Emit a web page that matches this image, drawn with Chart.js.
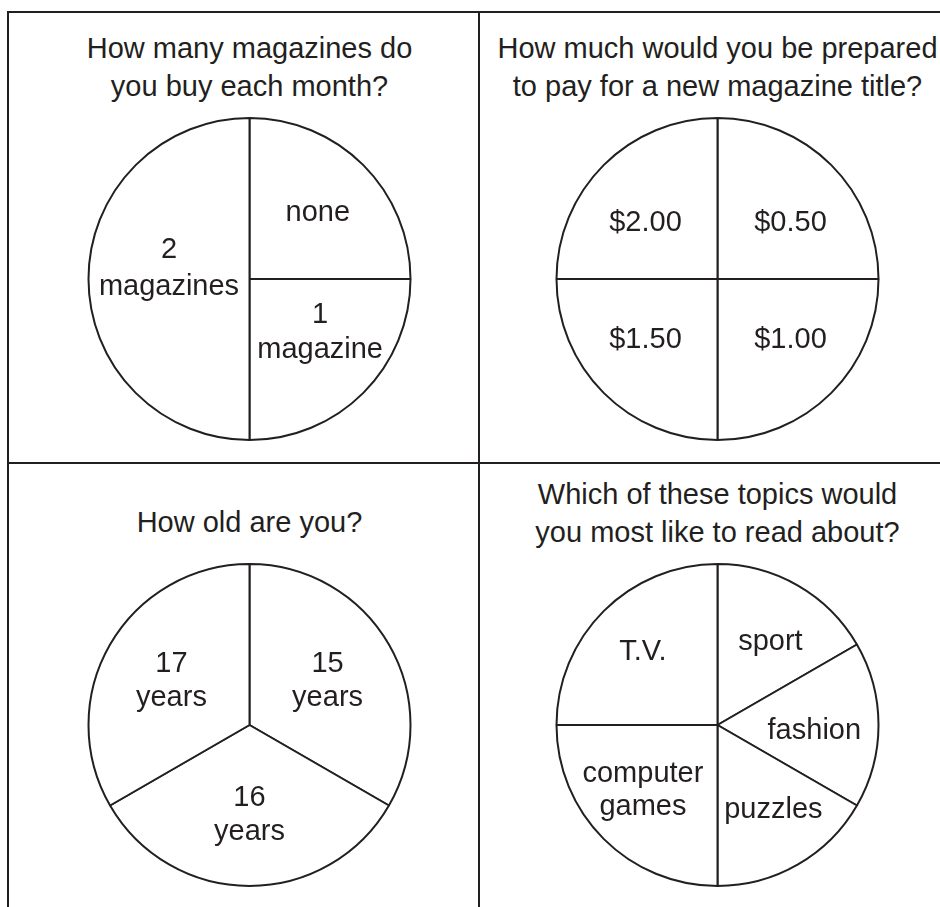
<!DOCTYPE html>
<html>
<head>
<meta charset="utf-8">
<script src="https://cdn.jsdelivr.net/npm/chart.js@4"></script>
<style>
html,body{margin:0;padding:0;background:#ffffff;}
body{width:940px;height:907px;position:relative;overflow:hidden;font-family:'Liberation Sans',Arial,Helvetica,sans-serif;color:#231f20;}
.ln{position:absolute;background:#231f20;}
.ttl{position:absolute;width:480px;text-align:center;font-size:29px;line-height:38px;white-space:nowrap;}
canvas{position:absolute;}
</style>
</head>
<body>
<div class="ln" style="left:7px;top:11px;width:933px;height:2px;"></div>
<div class="ln" style="left:7px;top:11px;width:2px;height:896px;"></div>
<div class="ln" style="left:478px;top:11px;width:2px;height:896px;"></div>
<div class="ln" style="left:7px;top:462px;width:933px;height:2px;"></div>

<div class="ttl" id="t1" style="left:9.5px;top:29px;"></div>
<div class="ttl" id="t2" style="left:477.5px;top:29px;"></div>
<div class="ttl" id="t3" style="left:9.5px;top:503px;"></div>
<div class="ttl" id="t4" style="left:477.5px;top:475px;"></div>

<canvas id="c1" width="341" height="340" style="left:79px;top:109px;"></canvas>
<canvas id="c2" width="341" height="340" style="left:547px;top:109px;"></canvas>
<canvas id="c3" width="341" height="340" style="left:79px;top:555px;"></canvas>
<canvas id="c4" width="341" height="340" style="left:547px;top:555px;"></canvas>

<script>
// ---- data ----
const title1 = ['How many magazines do', 'you buy each month?'];
const title2 = ['How much would you be prepared', 'to pay for a new magazine title?'];
const title3 = ['How old are you?'];
const title4 = ['Which of these topics would', 'you most like to read about?'];

const q1Labels = ['none', ['1', 'magazine'], ['2', 'magazines']];
const q1Values = [1, 1, 2];

const q2Labels = ['$0.50', '$1.00', '$1.50', '$2.00'];
const q2Values = [1, 1, 1, 1];

const q3Labels = [['15', 'years'], ['16', 'years'], ['17', 'years']];
const q3Values = [1, 1, 1];

const q4Labels = ['sport', 'fashion', 'puzzles', ['computer', 'games'], 'T.V.'];
const q4Values = [2, 2, 2, 3, 3];

// ---- titles ----
function setTitle(id, lines) {
  const el = document.getElementById(id);
  lines.forEach((t, i) => {
    if (i) el.appendChild(document.createElement('br'));
    el.appendChild(document.createTextNode(t));
  });
}
setTitle('t1', title1);
setTitle('t2', title2);
setTitle('t3', title3);
setTitle('t4', title4);

// ---- slice label plugin ----
const sliceLabels = {
  id: 'sliceLabels',
  afterDatasetsDraw(chart, args, opts) {
    const ctx = chart.ctx;
    const meta = chart.getDatasetMeta(0);
    const labels = chart.data.labels;
    ctx.save();
    ctx.fillStyle = opts.color;
    ctx.font = opts.font;
    ctx.textAlign = 'center';
    ctx.textBaseline = 'middle';
    meta.data.forEach((arc, i) => {
      const p = arc.getProps(['x', 'y', 'startAngle', 'endAngle', 'outerRadius'], true);
      const mid = (p.startAngle + p.endAngle) / 2;
      const f = (opts.radial && opts.radial[i] != null) ? opts.radial[i] : opts.defaultRadial;
      const nd = (opts.nudge && opts.nudge[i]) ? opts.nudge[i] : [0, 0];
      const px = p.x + Math.cos(mid) * p.outerRadius * f + nd[0];
      const py = p.y + Math.sin(mid) * p.outerRadius * f + nd[1];
      const lines = Array.isArray(labels[i]) ? labels[i] : [labels[i]];
      const lh = (opts.lineHeights && opts.lineHeights[i]) || opts.lineHeight;
      lines.forEach((t, k) => {
        ctx.fillText(t, px, py + (k - (lines.length - 1) / 2) * lh);
      });
    });
    ctx.restore();
  }
};

function makePie(id, labels, values, labelOpts) {
  return new Chart(document.getElementById(id), {
    type: 'pie',
    data: {
      labels: labels,
      datasets: [{
        data: values,
        backgroundColor: '#ffffff',
        borderColor: '#231f20',
        borderWidth: 2,
        hoverOffset: 0
      }]
    },
    options: {
      responsive: false,
      animation: false,
      events: [],
      radius: 161,
      layout: { padding: 0 },
      plugins: {
        legend: { display: false },
        tooltip: { enabled: false },
        title: { display: false },
        sliceLabels: Object.assign({
          color: '#231f20',
          font: "29px 'Liberation Sans', Arial, Helvetica, sans-serif",
          lineHeight: 34,
          defaultRadial: 0.58
        }, labelOpts || {})
      }
    },
    plugins: [sliceLabels]
  });
}

makePie('c1', q1Labels, q1Values, {
  radial: [0.6, 0.55, 0.5],
  nudge: [[0, 2], [8, -9], [0, -11]],
  lineHeights: [34, 35, 37]
});
makePie('c2', q2Labels, q2Values, {
  defaultRadial: 0.58,
  nudge: [[7, 10], [7, -5], [-6, -5], [-6, 10]]
});
makePie('c3', q3Labels, q3Values, { defaultRadial: 0.56, nudge: [[0, 1], [0, 0], [0, 1]] });
makePie('c4', q4Labels, q4Values, {
  defaultRadial: 0.62,
  nudge: [[3, 3], [-3, 6], [6, -1], [-4, -5], [-4, -2]],
  lineHeights: [34, 34, 34, 33, 34]
});
</script>
</body>
</html>
